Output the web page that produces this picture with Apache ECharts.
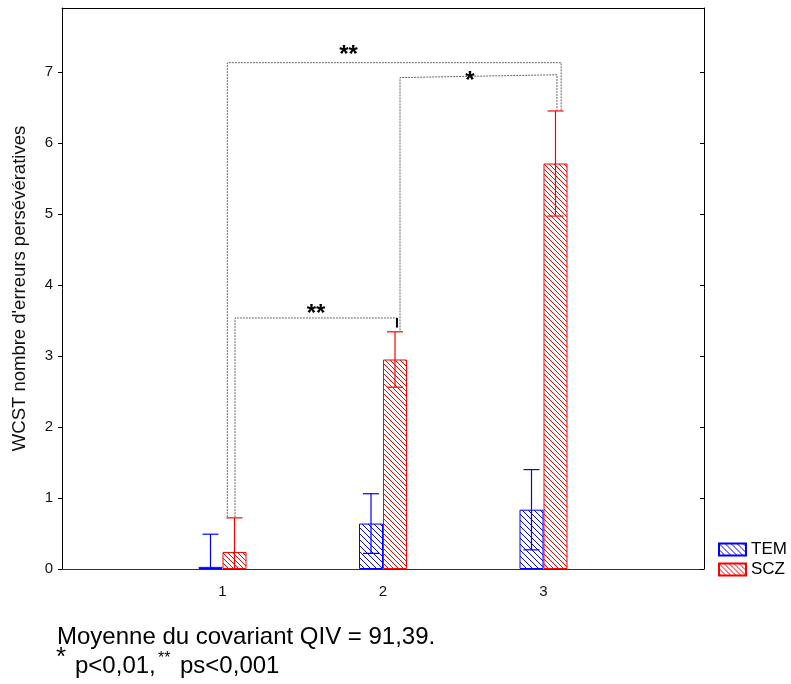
<!DOCTYPE html>
<html>
<head>
<meta charset="utf-8">
<script src="https://cdn.jsdelivr.net/npm/echarts@6/dist/echarts.min.js"></script>
<style>
html,body{margin:0;padding:0;background:#fff;}
#chart{width:791px;height:684px;}
</style>
</head>
<body>
<div id="chart"></div>
<script>
// ---- data ----
var categories = ['0', '1', '2', '3', '4'];
var yTicks = [0, 1, 2, 3, 4, 5, 6, 7];
var temMean = [null, 0.03, 0.64, 0.835, null];
var sczMean = [null, 0.24, 2.95, 5.71, null];
var temLow = [null, -0.43, 0.22, 0.27, null];
var temHigh = [null, 0.49, 1.06, 1.40, null];
var sczLow = [null, -0.24, 2.56, 4.97, null];
var sczHigh = [null, 0.72, 3.34, 6.45, null];
// significance brackets
var bracketX1 = [1.03, 2.106, 1.078];
var bracketX2 = [3.11, 3.084, 2.087];
var bracketY1 = [7.13, 6.92, 3.535];
var bracketY2 = [7.13, 6.96, 3.535];
var bracketEnd1 = [0.73, 3.36, 0.73];
var bracketEnd2 = [6.46, 6.46, 3.40];
var bracketLabel = ['**', '*', '**'];
var bracketLabelX = [1.785, 2.542, 1.583];
var bracketLabelY = [7.23, 6.87, 3.59];
var bracketRightSolid = [false, false, true];
var noteLine1 = 'Moyenne du covariant QIV = 91,39.';
var noteLine2a = 'p<0,01,';
var noteLine2b = 'ps<0,001';

var FONT = 'Liberation Sans, Arial, sans-serif';

function hatch(color, period) {
  var c = document.createElement('canvas');
  c.width = period; c.height = period;
  var ctx = c.getContext('2d');
  ctx.fillStyle = '#ffffff';
  ctx.fillRect(0, 0, period, period);
  ctx.fillStyle = color;
  for (var i = 0; i < period; i++) ctx.fillRect(i, i, 1, 1);
  return c;
}

function rows(lo, hi) {
  var out = [];
  for (var i = 0; i < categories.length; i++) {
    if (lo[i] != null) out.push([i, lo[i], hi[i]]);
  }
  return out;
}

function errorRender(offset, color) {
  return function (params, api) {
    var x = api.value(0);
    var lo = api.value(1), hi = api.value(2);
    var pHi = api.coord([x, hi]);
    var pLo = api.coord([x, Math.max(lo, 0)]);
    var cx = pHi[0] + offset;
    var half = 8;
    var st = { stroke: color, lineWidth: 1.2 };
    var children = [
      { type: 'line', shape: { x1: cx, y1: pLo[1], x2: cx, y2: pHi[1] }, style: st },
      { type: 'line', shape: { x1: cx - half, y1: pHi[1], x2: cx + half, y2: pHi[1] }, style: st }
    ];
    if (lo > 0) children.push({ type: 'line', shape: { x1: cx - half, y1: pLo[1], x2: cx + half, y2: pLo[1] }, style: st });
    return { type: 'group', children: children };
  };
}

var bracketData = [];
for (var b = 0; b < bracketX1.length; b++) bracketData.push([bracketX1[b], bracketY1[b], b]);

var chart = echarts.init(document.getElementById('chart'), null, { renderer: 'canvas' });
var option = {
  animation: false,
  backgroundColor: '#ffffff',
  grid: { left: 62, right: 87, top: 8, bottom: 115, containLabel: false },
  legend: {
    orient: 'vertical', left: 718, top: 541, padding: 0, itemWidth: 27, itemHeight: 12, itemGap: 3,
    icon: 'rect',
    textStyle: { fontFamily: FONT, fontSize: 17, color: '#000' },
    data: ['TEM', 'SCZ']
  },
  xAxis: [
    {
      type: 'category', data: categories, boundaryGap: false, position: 'bottom',
      axisLine: { lineStyle: { color: '#333', width: 1 } },
      axisTick: { show: false },
      axisLabel: { fontFamily: FONT, fontSize: 15, color: '#111', margin: 15,
        formatter: function (v) { return (v === '0' || v === '4') ? '' : v; } },
      splitLine: { show: false }
    },
    {
      type: 'value', min: 0, max: 4, position: 'top',
      axisLine: { show: true, onZero: false, lineStyle: { color: '#000', width: 1 } },
      axisTick: { show: false }, axisLabel: { show: false }, splitLine: { show: false }
    }
  ],
  yAxis: [
    {
      type: 'value', min: 0, max: 7.9, position: 'left',
      name: "WCST nombre d'erreurs persévératives", nameLocation: 'middle', nameRotate: 90, nameGap: 33,
      nameTextStyle: { fontFamily: FONT, fontSize: 18.5, color: '#111' },
      axisLine: { show: true, lineStyle: { color: '#000', width: 1 } },
      axisTick: { show: true, inside: false, length: 4, customValues: yTicks, lineStyle: { color: '#000' } },
      axisLabel: { fontFamily: FONT, fontSize: 15, color: '#111', margin: 9, customValues: yTicks },
      splitLine: { show: false }
    },
    {
      type: 'value', min: 0, max: 7.9, position: 'right',
      axisLine: { show: true, lineStyle: { color: '#000', width: 1 } },
      axisTick: { show: true, inside: true, length: 4, customValues: yTicks, lineStyle: { color: '#000' } },
      axisLabel: { show: false }, splitLine: { show: false }
    }
  ],
  series: [
    {
      name: 'TEM', type: 'bar', xAxisIndex: 0, yAxisIndex: 0, data: temMean,
      barWidth: 24, barGap: '0%',
      itemStyle: { color: { image: hatch('#0000ff', 6), repeat: 'repeat' }, borderColor: '#0000ff', borderWidth: 1 }
    },
    {
      name: 'SCZ', type: 'bar', xAxisIndex: 0, yAxisIndex: 0, data: sczMean,
      barWidth: 24, barGap: '0%',
      itemStyle: { color: { image: hatch('#ff0000', 5), repeat: 'repeat' }, borderColor: '#ff0000', borderWidth: 1 }
    },
    {
      name: 'errTEM', type: 'custom', xAxisIndex: 0, yAxisIndex: 0, z: 5,
      data: rows(temLow, temHigh), encode: { x: 0, y: [1, 2] },
      renderItem: errorRender(-12, '#0000ff')
    },
    {
      name: 'errSCZ', type: 'custom', xAxisIndex: 0, yAxisIndex: 0, z: 5,
      data: rows(sczLow, sczHigh), encode: { x: 0, y: [1, 2] },
      renderItem: errorRender(12, '#ff0000')
    },
    {
      name: 'brackets', type: 'custom', xAxisIndex: 1, yAxisIndex: 0, z: 6,
      data: bracketData, encode: { x: 0, y: 1 },
      renderItem: function (params, api) {
        var i = api.value(2);
        var a = api.coord([bracketX1[i], bracketEnd1[i]]);
        var b1 = api.coord([bracketX1[i], bracketY1[i]]);
        var c = api.coord([bracketX2[i], bracketY2[i]]);
        var d = api.coord([bracketX2[i], bracketEnd2[i]]);
        var t = api.coord([bracketLabelX[i], bracketLabelY[i]]);
        var dash = { stroke: '#666', lineWidth: 1, lineDash: [2, 1], fill: null };
        var children = [
          { type: 'polyline', shape: { points: bracketRightSolid[i] ? [a, b1, c] : [a, b1, c, d] }, style: dash },
          { type: 'text', x: t[0], y: t[1], style: { text: bracketLabel[i], font: 'bold 24px ' + FONT, fill: '#000', align: 'center', verticalAlign: 'middle' } }
        ];
        if (bracketRightSolid[i]) {
          children.push({ type: 'line', shape: { x1: c[0], y1: c[1], x2: d[0], y2: d[1] }, style: { stroke: '#000', lineWidth: 2 } });
        }
        return { type: 'group', children: children };
      }
    }
  ],
  graphic: [
    { type: 'text', left: 57, top: 625, style: { text: noteLine1, font: '24px ' + FONT, fill: '#000' } },
    { type: 'text', left: 56, top: 645, style: { text: '*', font: '26px ' + FONT, fill: '#000' } },
    { type: 'text', left: 75, top: 654, style: { text: noteLine2a, font: '24px ' + FONT, fill: '#000' } },
    { type: 'text', left: 158, top: 651, style: { text: '**', font: '16px ' + FONT, fill: '#000' } },
    { type: 'text', left: 180, top: 654, style: { text: noteLine2b, font: '24px ' + FONT, fill: '#000' } }
  ]
};
chart.setOption(option);
</script>
</body>
</html>
